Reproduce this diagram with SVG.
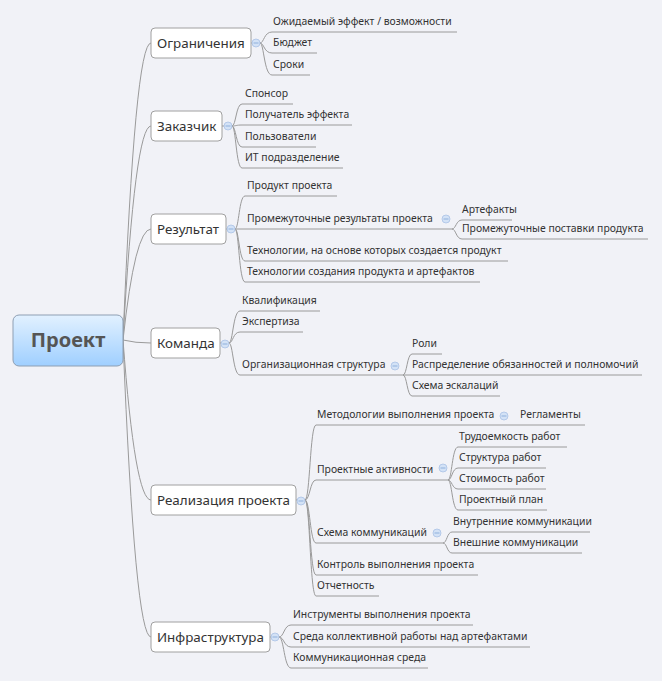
<svg xmlns="http://www.w3.org/2000/svg" width="662" height="681" viewBox="0 0 662 681">
<defs>
<linearGradient id="cg" x1="0" y1="0" x2="0" y2="1">
<stop offset="0" stop-color="#e2f1ff"/>
<stop offset="1" stop-color="#9fcfff"/>
</linearGradient>
<style>
.bg{fill:#f1f2f7}
.ln{fill:none;stroke:#9a9a9a;stroke-width:1}
.box{fill:#ffffff;stroke:#a0a0a0;stroke-width:1}
.mt{font-family:"Noto Sans","Liberation Sans",sans-serif;font-size:13.4px;fill:#333}
.ct{font-family:"Noto Sans","Liberation Sans",sans-serif;font-size:10.4px;fill:#333}
.ctr{font-family:"Noto Sans","Liberation Sans",sans-serif;font-size:20px;font-weight:bold;fill:#555}
.cb{fill:#d3e2f6;stroke:#a9c2e6;stroke-width:0.8}
.cm{stroke:#8fb0dc;stroke-width:1}
</style>
</defs>
<rect class="bg" x="0" y="0" width="662" height="681"/>
<g id="connectors">
<path class="ln" d="M123,340 Q135,43 151,43"/>
<path class="ln" d="M123,340 Q135,126 151,126"/>
<path class="ln" d="M123,340 Q135,229 151,229"/>
<path class="ln" d="M123,340 Q135,343 151,343"/>
<path class="ln" d="M123,340 Q135,500 151,500"/>
<path class="ln" d="M123,340 Q135,637 151,637"/>
<path class="ln" d="M251,43 L260,43"/>
<path class="ln" d="M260,43 C264,43 264,32 272,32 L457,32"/>
<path class="ln" d="M260,43 C264,43 264,53 272,53 L317,53"/>
<path class="ln" d="M260,43 C264,43 264,75 272,75 L310,75"/>
<path class="ln" d="M222,126 L232,126"/>
<path class="ln" d="M232,126 C236,126 236,104 242,104 L293,104"/>
<path class="ln" d="M232,126 C236,126 236,125 242,125 L352,125"/>
<path class="ln" d="M232,126 C236,126 236,147 242,147 L316,147"/>
<path class="ln" d="M232,126 C236,126 236,168 242,168 L343,168"/>
<path class="ln" d="M226,229 L235,229"/>
<path class="ln" d="M235,229 C239,229 239,196 245,196 L337,196"/>
<path class="ln" d="M235,229 L452,229"/>
<path class="ln" d="M235,229 C239,229 239,261 245,261 L508,261"/>
<path class="ln" d="M235,229 C239,229 239,282 245,282 L480,282"/>
<path class="ln" d="M452,229 C456,229 456,220 462,220 L512,220"/>
<path class="ln" d="M452,229 C456,229 456,239 462,239 L648,239"/>
<path class="ln" d="M220,343 L229,343"/>
<path class="ln" d="M229,343 C233,343 233,311 240,311 L320,311"/>
<path class="ln" d="M229,343 C233,343 233,332 240,332 L303,332"/>
<path class="ln" d="M229,343 C233,343 233,375 240,375 L403,375"/>
<path class="ln" d="M403,375 C407,375 407,354 412,354 L442,354"/>
<path class="ln" d="M403,375 L642,375"/>
<path class="ln" d="M403,375 C407,375 407,396 412,396 L500,396"/>
<path class="ln" d="M296,500 L305,500"/>
<path class="ln" d="M305,500 C310,500 310,425 316,425 L585,425"/>
<path class="ln" d="M305,500 C310,500 310,480 316,480 L448,480"/>
<path class="ln" d="M305,500 C310,500 310,543 316,543 L443,543"/>
<path class="ln" d="M305,500 C310,500 310,575 316,575 L478,575"/>
<path class="ln" d="M305,500 C310,500 310,596 316,596 L379,596"/>
<path class="ln" d="M448,480 C452,480 452,447 458,447 L567,447"/>
<path class="ln" d="M448,480 C452,480 452,468 458,468 L546,468"/>
<path class="ln" d="M448,480 C452,480 452,489 458,489 L546,489"/>
<path class="ln" d="M448,480 C452,480 452,510 458,510 L547,510"/>
<path class="ln" d="M443,543 C447,543 447,532 452,532 L590,532"/>
<path class="ln" d="M443,543 C447,543 447,553 452,553 L582,553"/>
<path class="ln" d="M270,637 L279,637"/>
<path class="ln" d="M279,637 C284,637 284,625 291,625 L473,625"/>
<path class="ln" d="M279,637 C284,637 284,647 291,647 L530,647"/>
<path class="ln" d="M279,637 C284,637 284,668 291,668 L428,668"/>
</g>
<g id="n-project">
<rect x="13" y="315" width="110" height="51" rx="6" fill="url(#cg)" stroke="#8e9fb3" stroke-width="1"/>
<text class="ctr" x="68" y="347" text-anchor="middle">Проект</text>
</g>
<g id="n-ogr">
<rect class="box" x="151" y="28" width="100" height="30" rx="4"/>
<text class="mt" x="157" y="48">Ограничения</text>
<circle class="cb" cx="256" cy="43" r="4"/><path class="cm" d="M253.5,43 H258.5"/>
</g>
<g id="n-ogr-1"><text class="ct" x="273" y="25">Ожидаемый эффект / возможности</text></g>
<g id="n-ogr-2"><text class="ct" x="273" y="46">Бюджет</text></g>
<g id="n-ogr-3"><text class="ct" x="273" y="68">Сроки</text></g>
<g id="n-zak">
<rect class="box" x="151" y="111" width="71" height="30" rx="4"/>
<text class="mt" x="157" y="131">Заказчик</text>
<circle class="cb" cx="228" cy="126" r="4"/><path class="cm" d="M225.5,126 H230.5"/>
</g>
<g id="n-zak-1"><text class="ct" x="245" y="97">Спонсор</text></g>
<g id="n-zak-2"><text class="ct" x="245" y="118">Получатель эффекта</text></g>
<g id="n-zak-3"><text class="ct" x="245" y="140">Пользователи</text></g>
<g id="n-zak-4"><text class="ct" x="245" y="161">ИТ подразделение</text></g>
<g id="n-res">
<rect class="box" x="151" y="214" width="75" height="30" rx="4"/>
<text class="mt" x="157" y="234">Результат</text>
<circle class="cb" cx="231" cy="229" r="4"/><path class="cm" d="M228.5,229 H233.5"/>
</g>
<g id="n-res-1"><text class="ct" x="247" y="189">Продукт проекта</text></g>
<g id="n-res-2"><text class="ct" x="247" y="222">Промежуточные результаты проекта</text>
<circle class="cb" cx="446" cy="219" r="4"/><path class="cm" d="M443.5,219 H448.5"/></g>
<g id="n-res-2-1"><text class="ct" x="462" y="213">Артефакты</text></g>
<g id="n-res-2-2"><text class="ct" x="462" y="232">Промежуточные поставки продукта</text></g>
<g id="n-res-3"><text class="ct" x="247" y="254">Технологии, на основе которых создается продукт</text></g>
<g id="n-res-4"><text class="ct" x="247" y="275">Технологии создания продукта и артефактов</text></g>
<g id="n-kom">
<rect class="box" x="151" y="328" width="69" height="30" rx="4"/>
<text class="mt" x="157" y="348">Команда</text>
<circle class="cb" cx="225" cy="344" r="4"/><path class="cm" d="M222.5,344 H227.5"/>
</g>
<g id="n-kom-1"><text class="ct" x="242" y="304">Квалификация</text></g>
<g id="n-kom-2"><text class="ct" x="242" y="325">Экспертиза</text></g>
<g id="n-kom-3"><text class="ct" x="242" y="368">Организационная структура</text>
<circle class="cb" cx="395" cy="366" r="4"/><path class="cm" d="M392.5,366 H397.5"/></g>
<g id="n-kom-3-1"><text class="ct" x="412" y="347">Роли</text></g>
<g id="n-kom-3-2"><text class="ct" x="412" y="368">Распределение обязанностей и полномочий</text></g>
<g id="n-kom-3-3"><text class="ct" x="412" y="389">Схема эскалаций</text></g>
<g id="n-real">
<rect class="box" x="151" y="485" width="145" height="30" rx="4"/>
<text class="mt" x="157" y="505">Реализация проекта</text>
<circle class="cb" cx="301" cy="501" r="4"/><path class="cm" d="M298.5,501 H303.5"/>
</g>
<g id="n-real-1"><text class="ct" x="317" y="418">Методологии выполнения проекта</text>
<circle class="cb" cx="504" cy="416" r="4"/><path class="cm" d="M501.5,416 H506.5"/></g>
<g id="n-real-1-1"><text class="ct" x="520" y="418">Регламенты</text></g>
<g id="n-real-2"><text class="ct" x="317" y="473">Проектные активности</text>
<circle class="cb" cx="443" cy="468" r="4"/><path class="cm" d="M440.5,468 H445.5"/></g>
<g id="n-real-2-1"><text class="ct" x="459" y="440">Трудоемкость работ</text></g>
<g id="n-real-2-2"><text class="ct" x="459" y="461">Структура работ</text></g>
<g id="n-real-2-3"><text class="ct" x="459" y="482">Стоимость работ</text></g>
<g id="n-real-2-4"><text class="ct" x="459" y="503">Проектный план</text></g>
<g id="n-real-3"><text class="ct" x="317" y="536">Схема коммуникаций</text>
<circle class="cb" cx="437" cy="533" r="4"/><path class="cm" d="M434.5,533 H439.5"/></g>
<g id="n-real-3-1"><text class="ct" x="453" y="525">Внутренние коммуникации</text></g>
<g id="n-real-3-2"><text class="ct" x="453" y="546">Внешние коммуникации</text></g>
<g id="n-real-4"><text class="ct" x="317" y="568">Контроль выполнения проекта</text></g>
<g id="n-real-5"><text class="ct" x="317" y="589">Отчетность</text></g>
<g id="n-infra">
<rect class="box" x="151" y="622" width="119" height="30" rx="4"/>
<text class="mt" x="157" y="642">Инфраструктура</text>
<circle class="cb" cx="275" cy="637" r="4"/><path class="cm" d="M272.5,637 H277.5"/>
</g>
<g id="n-infra-1"><text class="ct" x="293" y="618">Инструменты выполнения проекта</text></g>
<g id="n-infra-2"><text class="ct" x="293" y="640">Среда коллективной работы над артефактами</text></g>
<g id="n-infra-3"><text class="ct" x="293" y="661">Коммуникационная среда</text></g>
</svg>
